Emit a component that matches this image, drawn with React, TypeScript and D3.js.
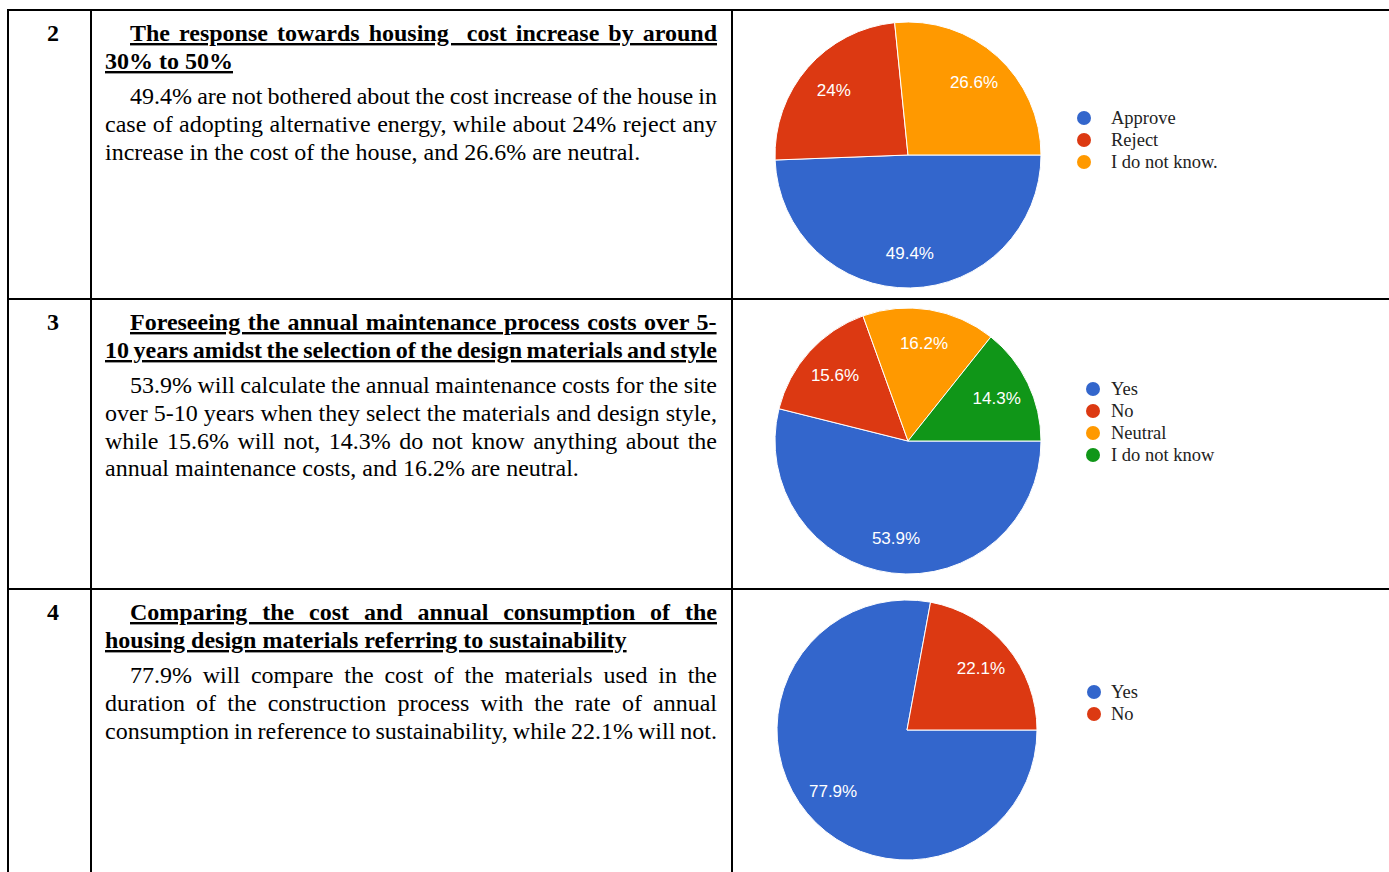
import React from "react";
import * as d3 from "d3";

// ---------- data ----------
const rowNumbers = ["2", "3", "4"];

const titleLines = [
  ["The response towards housing  cost increase by around", "30% to 50%"],
  ["Foreseeing the annual maintenance process costs over 5-", "10 years amidst the selection of the design materials and style"],
  ["Comparing the cost and annual consumption of the", "housing design materials referring to sustainability"],
];

const bodyLines = [
  [
    "49.4% are not bothered about the cost increase of the house in",
    "case of adopting alternative energy, while about 24% reject any",
    "increase in the cost of the house, and 26.6% are neutral.",
  ],
  [
    "53.9% will calculate the annual maintenance costs for the site",
    "over 5-10 years when they select the materials and design style,",
    "while 15.6% will not, 14.3% do not know anything about the",
    "annual maintenance costs, and 16.2% are neutral.",
  ],
  [
    "77.9% will compare the cost of the materials used in the",
    "duration of the construction process with the rate of annual",
    "consumption in reference to sustainability, while 22.1% will not.",
  ],
];

// last lines that run the full column width
const titleLastFull = [false, true, false];
const bodyLastFull = [false, false, true];

const pie1Labels = ["Approve", "Reject", "I do not know."];
const pie1Values = [49.4, 24, 26.6];
const pie2Labels = ["Yes", "No", "Neutral", "I do not know"];
const pie2Values = [53.9, 15.6, 16.2, 14.3];
const pie3Labels = ["Yes", "No"];
const pie3Values = [77.9, 22.1];

const sliceColors = ["#3366cc", "#dc3912", "#ff9900", "#109618"];

// ---------- layout ----------
const W = 1389;
const H = 872;
const rowTops = [10, 299, 589];
const colX = [8, 91, 732];
const textLeft = 105;
const textIndent = 130;
const textRight = 717;
const lineGap = 27.8;
const textSize = 24;

const pies = [
  { labels: pie1Labels, values: pie1Values, cx: 908, cy: 155, r: 133, legendCx: 1084, legendY: 118 },
  { labels: pie2Labels, values: pie2Values, cx: 908, cy: 441, r: 133, legendCx: 1093, legendY: 389 },
  { labels: pie3Labels, values: pie3Values, cx: 907, cy: 730, r: 130, legendCx: 1094, legendY: 692 },
];

const serif = "'Liberation Serif', 'Times New Roman', serif";
const sans = "'Liberation Sans', Arial, sans-serif";

let measureCtx: CanvasRenderingContext2D | null = null;
function measure(text: string, bold: boolean): number {
  if (!measureCtx) {
    const c = document.createElement("canvas");
    measureCtx = c.getContext("2d");
  }
  if (!measureCtx) return text.length * textSize * 0.45;
  measureCtx.font = `${bold ? "bold " : ""}${textSize}px ${serif}`;
  return measureCtx.measureText(text).width;
}

function TextLine({ text, x, y, full, bold, underline }: any) {
  let wordSpacing = 0;
  if (full) {
    const natural = measure(text, !!bold);
    const spaces = (text.match(/ /g) || []).length;
    if (spaces > 0) wordSpacing = (textRight - x - natural) / spaces;
  }
  return (
    <text
      x={x}
      y={y}
      fontFamily={serif}
      fontSize={textSize}
      fontWeight={bold ? "bold" : "normal"}
      textDecoration={underline ? "underline" : undefined}
      fill="#000"
      style={{ wordSpacing: `${wordSpacing}px`, whiteSpace: "pre" }}
    >
      {text}
    </text>
  );
}

function Pie({ cfg }: any) {
  const pieGen = d3
    .pie<number>()
    .sort(null)
    .startAngle(Math.PI / 2)
    .endAngle(Math.PI / 2 + 2 * Math.PI);
  const arcs = pieGen(cfg.values);
  const arcGen = d3.arc<any>().innerRadius(0).outerRadius(cfg.r);
  const labelArc = d3.arc<any>().innerRadius(cfg.r * 0.74).outerRadius(cfg.r * 0.74);
  const legendY = d3
    .scalePoint<string>()
    .domain(cfg.labels)
    .range([cfg.legendY, cfg.legendY + 22 * (cfg.labels.length - 1)]);
  return (
    <g>
      <g transform={`translate(${cfg.cx},${cfg.cy})`}>
        {arcs.map((a: any, i: number) => (
          <path key={i} d={arcGen(a) as string} fill={sliceColors[i]} stroke="#fff" strokeWidth={1} />
        ))}
        {arcs.map((a: any, i: number) => {
          const [lx, ly] = labelArc.centroid(a);
          return (
            <text
              key={"l" + i}
              x={lx}
              y={ly}
              textAnchor="middle"
              dominantBaseline="central"
              fontFamily={sans}
              fontSize={17}
              fill="#fff"
            >
              {cfg.values[i] + "%"}
            </text>
          );
        })}
      </g>
      {cfg.labels.map((lab: string, i: number) => (
        <g key={"g" + i}>
          <circle cx={cfg.legendCx} cy={legendY(lab)} r={7} fill={sliceColors[i]} />
          <text
            x={1111}
            y={legendY(lab)}
            dominantBaseline="central"
            fontFamily={serif}
            fontSize={18.5}
            fill="#222"
          >
            {lab}
          </text>
        </g>
      ))}
    </g>
  );
}

export default function App() {
  return (
    <svg
      width={W}
      height={H}
      style={{ position: "absolute", left: 0, top: 0, background: "#fff" }}
    >
      <rect x={0} y={0} width={W} height={H} fill="#fff" />
      {rowTops.map((top, ri) => {
        const t1 = top + 31;
        const t2 = t1 + 28;
        const b0 = t2 + 35;
        return (
          <g key={ri}>
            <text
              x={53}
              y={t1}
              textAnchor="middle"
              fontFamily={serif}
              fontSize={textSize}
              fontWeight="bold"
            >
              {rowNumbers[ri]}
            </text>
            {titleLines[ri].map((ln, li) => (
              <TextLine
                key={"t" + li}
                text={ln}
                x={li === 0 ? textIndent : textLeft}
                y={li === 0 ? t1 : t2}
                full={li < titleLines[ri].length - 1 || titleLastFull[ri]}
                bold
                underline
              />
            ))}
            {bodyLines[ri].map((ln, li) => (
              <TextLine
                key={"b" + li}
                text={ln}
                x={li === 0 ? textIndent : textLeft}
                y={b0 + li * lineGap}
                full={li < bodyLines[ri].length - 1 || bodyLastFull[ri]}
              />
            ))}
          </g>
        );
      })}
      {pies.map((p, i) => (
        <Pie key={i} cfg={p} />
      ))}
      {/* table rules */}
      {rowTops.map((y, i) => (
        <line key={"h" + i} x1={colX[0] - 1} x2={W} y1={y} y2={y} stroke="#000" strokeWidth={2} />
      ))}
      {colX.map((x, i) => (
        <line key={"v" + i} x1={x} x2={x} y1={rowTops[0] - 1} y2={H} stroke="#000" strokeWidth={2} />
      ))}
    </svg>
  );
}
